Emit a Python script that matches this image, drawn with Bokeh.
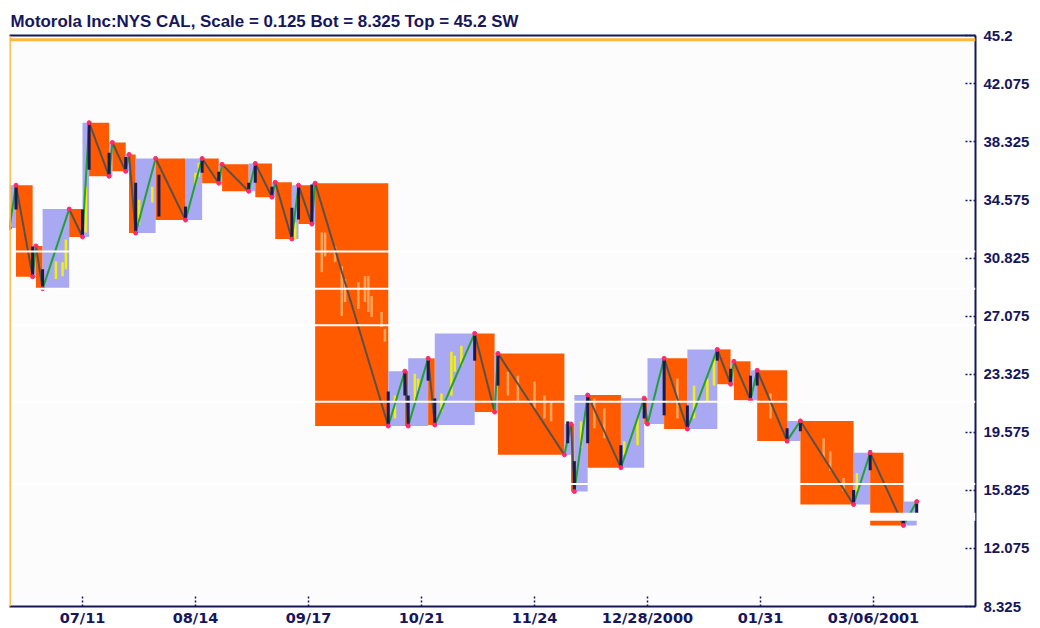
import pandas as pd
from bokeh.plotting import figure
from bokeh.models import FixedTicker, LinearAxis, Span, Range1d, CustomJSTickFormatter
from bokeh.embed import file_html
from bokeh.resources import INLINE

# ---- data ----
swing_dates = [
    "2000-06-19", "2000-06-21", "2000-06-26", "2000-06-27", "2000-06-29", "2000-07-07",
    "2000-07-11", "2000-07-13", "2000-07-19", "2000-07-20", "2000-07-24", "2000-07-25",
    "2000-07-27", "2000-08-02", "2000-08-11", "2000-08-16", "2000-08-21", "2000-08-22",
    "2000-08-30", "2000-09-01", "2000-09-06", "2000-09-07", "2000-09-12", "2000-09-14",
    "2000-09-18", "2000-09-19", "2000-10-11", "2000-10-16", "2000-10-17", "2000-10-23",
    "2000-10-25", "2000-11-06", "2000-11-12", "2000-11-13", "2000-12-03", "2000-12-05",
    "2000-12-06", "2000-12-10", "2000-12-20", "2000-12-27", "2000-12-28", "2001-01-02",
    "2001-01-09", "2001-01-18", "2001-01-22", "2001-01-23", "2001-01-28", "2001-01-30",
    "2001-02-08", "2001-02-12", "2001-02-28", "2001-03-05", "2001-03-15", "2001-03-19",
]
swing_prices = [
    32.77, 35.53, 29.62, 31.61, 28.85, 33.99,
    32.19, 39.57, 36.11, 38.29, 36.43, 37.52,
    32.44, 37.26, 33.28, 37.26, 35.66, 36.88,
    35.14, 36.94, 34.76, 35.72, 32.06, 35.53,
    33.02, 35.66, 19.98, 23.52, 19.98, 24.35,
    20.05, 25.96, 20.88, 24.67, 18.12, 20.11,
    15.75, 21.98, 17.29, 21.78, 20.11, 24.35,
    19.79, 24.93, 22.68, 24.16, 21.65, 23.58,
    19.02, 20.31, 14.91, 18.25, 13.56, 15.10,
]

# daily bars at the turning points (dark)
pivot_dates = [
    "2000-06-21", "2000-06-26", "2000-06-29", "2000-07-11", "2000-07-13", "2000-07-19",
    "2000-07-24", "2000-07-27", "2000-08-03", "2000-08-11", "2000-08-16", "2000-08-21",
    "2000-08-30", "2000-09-01", "2000-09-06", "2000-09-12", "2000-09-14", "2000-09-18",
    "2000-10-11", "2000-10-16", "2000-10-17", "2000-10-23", "2000-10-25", "2000-11-06",
    "2000-11-13", "2000-12-04", "2000-12-06", "2000-12-10", "2000-12-20", "2000-12-27",
    "2001-01-02", "2001-01-09", "2001-01-18", "2001-01-22", "2001-01-28", "2001-01-30",
    "2001-02-08", "2001-02-12", "2001-02-28", "2001-03-05", "2001-03-15", "2001-03-19",
]
pivot_lows = [
    33.96, 29.66, 28.82, 32.16, 36.53, 36.08, 36.34, 32.35, 33.51, 33.19, 36.34, 35.69,
    35.05, 35.69, 34.80, 32.03, 33.32, 33.06, 20.02, 21.95, 19.96, 22.91, 20.15, 24.20,
    22.59, 18.87, 15.66, 18.87, 17.26, 20.47, 20.67, 19.70, 24.20, 22.72, 21.56, 22.59,
    18.87, 19.64, 14.82, 17.13, 13.54, 14.05,
]
pivot_highs = [
    35.44, 31.58, 30.11, 33.96, 39.55, 37.62, 37.36, 35.69, 36.21, 34.15, 37.30, 36.40,
    35.69, 36.98, 35.44, 34.08, 35.44, 35.57, 22.21, 23.49, 21.95, 24.33, 21.76, 25.93,
    24.65, 20.28, 17.71, 21.95, 18.74, 21.63, 24.33, 21.31, 24.97, 23.68, 23.23, 23.49,
    19.83, 20.28, 15.85, 18.42, 14.24, 15.14,
]
# daily bars inside rising swings (yellow)
upbar_dates = [
    "2000-07-03", "2000-07-05", "2000-07-06", "2000-07-12", "2000-07-28", "2000-08-01",
    "2000-08-14", "2000-08-15", "2000-09-13", "2000-10-13", "2000-10-19", "2000-10-20",
    "2000-10-27", "2000-10-30", "2000-10-31", "2000-11-02", "2000-12-08", "2000-12-21",
    "2000-12-25", "2001-01-11", "2001-01-15", "2001-01-17", "2001-03-01",
]
upbar_lows = [
    29.47, 29.66, 30.11, 32.48, 32.99, 34.41, 35.57, 36.08, 32.03, 20.47, 21.56, 22.21,
    20.92, 21.95, 23.49, 23.88, 18.55, 18.10, 18.74, 20.47, 21.56, 22.59, 15.78,
]
upbar_highs = [
    30.62, 30.56, 32.03, 35.44, 34.60, 35.44, 36.34, 36.98, 33.13, 21.95, 23.36, 23.04,
    22.08, 24.78, 24.52, 25.16, 20.28, 19.00, 20.47, 22.59, 23.04, 24.33, 16.94,
]
# daily bars inside falling swings (light orange)
downbar_dates = [
    "2000-09-21", "2000-09-22", "2000-09-25", "2000-09-27", "2000-09-28", "2000-10-02",
    "2000-10-04", "2000-10-05", "2000-10-06", "2000-10-09", "2000-10-10", "2000-11-16",
    "2000-11-19", "2000-11-24", "2000-11-27", "2000-11-29", "2000-12-12", "2000-12-15",
    "2001-01-06", "2001-02-03", "2001-02-19", "2001-02-21", "2001-02-25",
]
downbar_lows = [
    29.91, 30.94, 30.56, 27.09, 27.99, 27.54, 27.99, 27.35, 27.02, 26.38, 25.42, 21.95,
    21.56, 21.12, 20.47, 20.28, 19.83, 19.19, 20.47, 20.47, 17.90, 17.07, 15.78,
]
downbar_highs = [
    32.48, 32.48, 31.58, 30.30, 29.47, 29.27, 29.66, 29.66, 28.37, 27.35, 26.25, 23.49,
    23.23, 22.85, 21.95, 21.56, 21.76, 21.12, 23.04, 22.08, 19.19, 18.35, 16.62,
]

tick_dates = ["2000-07-11", "2000-08-14", "2000-09-17", "2000-10-21",
              "2000-11-24", "2000-12-28", "2001-01-31", "2001-03-06"]
tick_labels = ["07/11", "08/14", "09/17", "10/21", "11/24", "12/28/2000", "01/31", "03/06/2001"]
price_ticks = [8.325, 12.075, 15.825, 19.575, 23.325, 27.075, 30.825, 34.575, 38.325, 42.075, 45.2]
scan_gaps = [31.25, 28.84, 26.49, 21.54, 16.24]   # white scanline artefacts (price levels)
scan_band = 14.12

NAVY = "#16165c"
ORANGE = "#FF5A00"
LAVENDER = "#A8A9F2"
GOLD = "#FFB83C"

base = pd.Timestamp("2000-07-11")
def to_days(ds):
    return [(pd.Timestamp(d) - base).days for d in ds]

sx = to_days(swing_dates)
tx = to_days(tick_dates)

left, right, bottom, top, color = [], [], [], [], []
x0, y0, x1, y1, lcol = [], [], [], [], []
for i in range(len(sx) - 1):
    up = swing_prices[i + 1] > swing_prices[i]
    left.append(sx[i]); right.append(sx[i + 1])
    bottom.append(min(swing_prices[i], swing_prices[i + 1]))
    top.append(max(swing_prices[i], swing_prices[i + 1]))
    color.append(LAVENDER if up else ORANGE)
    x0.append(sx[i]); y0.append(swing_prices[i]); x1.append(sx[i + 1]); y1.append(swing_prices[i + 1])
    lcol.append("#22A032" if up else "#5A5048")

p = figure(width=1040, height=628, output_backend="svg", toolbar_location=None,
           x_range=Range1d(-21.96, 268.69), y_range=Range1d(8.325, 45.2),
           y_axis_location="right",
           min_border_left=9, min_border_right=65, min_border_top=35, min_border_bottom=20,
           background_fill_color="#FCFCFC", border_fill_color="white")
p.grid.visible = False
p.outline_line_color = None

xa = p.below[0]
ya = p.right[0]

p.title.text = "Motorola Inc:NYS CAL, Scale = 0.125 Bot = 8.325 Top = 45.2 SW"
p.title.text_font = "Liberation Sans"
p.title.text_font_style = "bold"
p.title.text_font_size = "16.9px"
p.title.text_color = NAVY
p.title.offset = 1
p.title.standoff = 10

p.quad(left=left, right=right, bottom=bottom, top=top, fill_color=color, line_color=None)

dx = to_days(downbar_dates)
p.segment(x0=dx, y0=downbar_lows, x1=dx, y1=downbar_highs, line_color="#FFA45A", line_width=2.5)
ux = to_days(upbar_dates)
p.segment(x0=ux, y0=upbar_lows, x1=ux, y1=upbar_highs, line_color="#F2EE10", line_width=2.5)

p.segment(x0=x0, y0=y0, x1=x1, y1=y1, line_color=lcol, line_width=2)

px_ = to_days(pivot_dates)
p.segment(x0=px_, y0=pivot_lows, x1=px_, y1=pivot_highs, line_color="#1A1A50", line_width=3)

p.scatter(sx, swing_prices, size=4, color="#FF2A6A")

for g in scan_gaps:
    p.add_layout(Span(location=g, dimension="width", line_color="white", line_width=2))
p.add_layout(Span(location=scan_band, dimension="width", line_color="#FCFCFC", line_width=8))

p.add_layout(Span(location=44.93, dimension="width", line_color=GOLD, line_width=3))
p.add_layout(Span(location=-21.85, dimension="height", line_color=GOLD, line_width=2))

top_axis = LinearAxis(ticker=FixedTicker(ticks=[]), axis_line_color=NAVY, axis_line_width=2,
                      major_tick_in=0, major_tick_out=0, minor_tick_in=0, minor_tick_out=0,
                      major_label_text_font_size="0px", major_label_standoff=0)
p.add_layout(top_axis, "above")

xa.ticker = FixedTicker(ticks=tx)
xa.formatter = CustomJSTickFormatter(args=dict(tvals=tx, tlabels=tick_labels),
                                     code="const i = tvals.indexOf(tick); return i >= 0 ? tlabels[i] : '';")
ya.ticker = FixedTicker(ticks=price_ticks)
ya.formatter = CustomJSTickFormatter(code="return String(Math.round(tick*1000)/1000);")

for ax in (xa, ya):
    ax.axis_line_color = NAVY
    ax.axis_line_width = 2
    ax.major_tick_in = 10
    ax.major_tick_out = 0
    ax.major_tick_line_dash = "2 2"
    ax.major_tick_line_width = 1.5
    ax.major_tick_line_color = NAVY
    ax.minor_tick_in = 0
    ax.minor_tick_out = 0
    ax.major_label_text_font_style = "bold"
    ax.major_label_text_color = NAVY
xa.major_label_text_font = "DejaVu Sans"
xa.major_label_text_font_size = "14.5px"
xa.major_label_standoff = 3
ya.major_label_text_font = "Liberation Sans"
ya.major_label_text_font_size = "15px"
ya.major_label_standoff = 8

open("out.html", "w").write(file_html(p, INLINE))
